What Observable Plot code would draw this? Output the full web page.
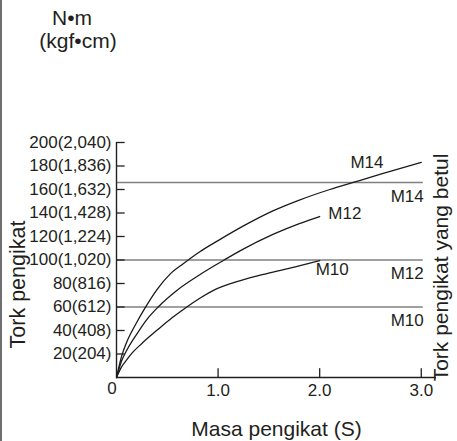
<!DOCTYPE html>
<html><head><meta charset="utf-8">
<script src="https://cdn.jsdelivr.net/npm/d3@7"></script>
<script src="https://cdn.jsdelivr.net/npm/@observablehq/plot@0.6"></script>
<style>
html,body{margin:0;padding:0;background:#fff;}
#wrap{position:relative;width:457px;height:441px;overflow:hidden;}
#edge{position:absolute;left:0;top:0;width:2px;height:441px;background:#6f6f6f;}
</style></head><body><div id="wrap"><div id="edge"></div></div>
<script>
// ---- data ----
const yTickValues = [20, 40, 60, 80, 100, 120, 140, 160, 180, 200];
const yTickLabels = ["20(204)", "40(408)", "60(612)", "80(816)", "100(1,020)", "120(1,224)", "140(1,428)", "160(1,632)", "180(1,836)", "200(2,040)"];
const xTickValues = [1, 2, 3];
const xTickLabels = ["1.0", "2.0", "3.0"];
const series = ["M14", "M12", "M10"];
const m14X = [0, 0.05, 0.1, 0.2, 0.28, 0.4, 0.527, 0.66, 0.82, 1.0, 1.25, 1.545, 1.8, 2.1, 2.33, 2.6, 3.0];
const m14Y = [0, 18, 30, 47, 59, 75, 88, 97, 107, 116.5, 129, 142, 151, 160, 166, 173, 183];
const m12X = [0, 0.05, 0.1, 0.2, 0.3, 0.41, 0.6, 0.82, 1.06, 1.22, 1.545, 1.8, 2.0];
const m12Y = [0, 14, 23, 37, 49.5, 60, 74.5, 87.5, 100, 108, 122, 131, 137];
const m10X = [0, 0.05, 0.1, 0.15, 0.25, 0.41, 0.55, 0.675, 0.82, 0.95, 1.22, 1.48, 1.75, 2.0];
const m10Y = [0, 9, 15, 20.5, 29, 41, 51, 59, 67.5, 74, 82.5, 88.5, 94, 99.5];
const limitSeries = ["M14", "M12", "M10"];
const limitValues = [166, 100, 60];
const yUnitTop = "N•m";
const yUnitBottom = "(kgf•cm)";
const yTitle = "Tork pengikat";
const rightTitle = "Tork pengikat yang betul";
const xTitle = "Masa pengikat (S)";

// ---- table ----
const curves = [];
[[m14X, m14Y], [m12X, m12Y], [m10X, m10Y]].forEach(([xs, ys], k) => {
  xs.forEach((x, i) => curves.push({series: series[k], x, y: ys[i]}));
});
const limits = limitSeries.map((s, i) => ({series: s, value: limitValues[i]}));

const ink = "#231f20";
const font = "'Liberation Sans', Arial, Helvetica, sans-serif";

const chart = Plot.plot({
  width: 457,
  height: 441,
  marginLeft: 116,
  marginRight: 21,
  marginTop: 142,
  marginBottom: 64,
  style: {fontFamily: font, fontSize: "17px", color: ink, background: "transparent"},
  x: {domain: [0, 3.15]},
  y: {domain: [0, 200]},
  marks: [
    // permissible torque lines
    Plot.ruleY(limits, {y: "value", x1: 0, x2: 3.02, stroke: "#808080", strokeWidth: 1.5}),
    // curves
    Plot.line(curves, {x: "x", y: "y", z: "series", stroke: "#1a1a1a", strokeWidth: 1.3, curve: "monotone-x"}),
    // axes lines
    Plot.ruleX([0], {y1: 0, y2: 200, stroke: ink, strokeWidth: 1.4}),
    Plot.ruleY([0], {x1: 0, x2: 3.15, stroke: ink, strokeWidth: 1.4}),
    // inward ticks
    Plot.ruleY(yTickValues, {x1: 0, x2: 0.085, stroke: ink, strokeWidth: 1.3}),
    Plot.ruleX(xTickValues, {y1: 0, y2: 7.5, stroke: ink, strokeWidth: 1.3}),
    // tick labels
    Plot.axisY(yTickValues, {tickSize: 0, tickPadding: 5, label: null, fontSize: 17, fill: ink,
      tickFormat: d => yTickLabels[yTickValues.indexOf(d)]}),
    Plot.axisX(xTickValues, {tickSize: 0, tickPadding: 6, label: null, fontSize: 17, fill: ink,
      tickFormat: d => xTickLabels[xTickValues.indexOf(d)]}),
    Plot.text(["0"], {x: () => 0, y: () => 0, dx: -4.5, dy: 11, fontSize: 17, fill: ink, textAnchor: "middle", lineAnchor: "middle"}),
    // curve labels
    Plot.text(series, {x: [2.465, 2.248, 2.123], y: [182.6, 139.7, 91.9], text: d => d, fontSize: 17, fill: ink, textAnchor: "middle", lineAnchor: "middle"}),
    // limit labels
    Plot.text(limits, {x: () => 2.862, y: "value", text: "series", dy: 14, fontSize: 17, fill: ink, textAnchor: "middle", lineAnchor: "middle"}),
    // titles
    Plot.text([yUnitTop], {frameAnchor: "top-left", dx: -44.5, dy: -124.5, fontSize: 21, fill: ink, textAnchor: "middle", lineAnchor: "middle"}),
    Plot.text([yUnitBottom], {frameAnchor: "top-left", dx: -38.5, dy: -101.5, fontSize: 21, fill: ink, textAnchor: "middle", lineAnchor: "middle"}),
    Plot.text([yTitle], {frameAnchor: "left", dx: -98, dy: 24.5, rotate: -90, fontSize: 21.5, fill: ink, textAnchor: "middle", lineAnchor: "middle"}),
    Plot.text([rightTitle], {frameAnchor: "right", dx: 5, dy: 7.5, rotate: -90, fontSize: 21, fill: ink, textAnchor: "middle", lineAnchor: "middle"}),
    Plot.text([xTitle], {frameAnchor: "bottom", dx: 0, dy: 51.5, fontSize: 21, fill: ink, textAnchor: "middle", lineAnchor: "middle"})
  ]
});
chart.style.position = "absolute";
chart.style.left = "0";
chart.style.top = "0";
chart.style.overflow = "visible";
document.getElementById("wrap").appendChild(chart);
</script>
</body></html>
